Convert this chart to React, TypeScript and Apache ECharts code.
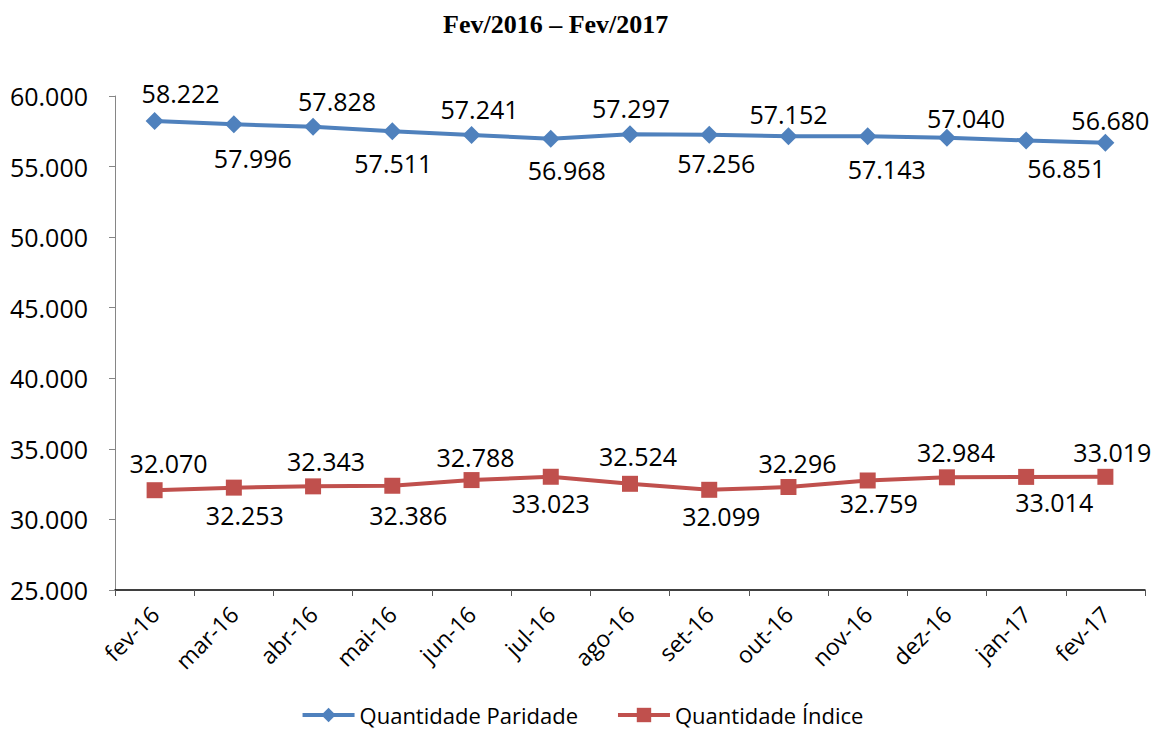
import React, { useEffect, useRef } from "react";
import * as echarts from "echarts";

const categories = ["fev-16","mar-16","abr-16","mai-16","jun-16","jul-16","ago-16","set-16","out-16","nov-16","dez-16","jan-17","fev-17"];
const paridade = [58222,57996,57828,57511,57241,56968,57297,57256,57152,57143,57040,56851,56680];
const indice = [32070,32253,32343,32386,32788,33023,32524,32099,32296,32759,32984,33014,33019];
const yTicks = { min: 25000, max: 60000, interval: 5000 };

// label placement (pixels, relative to each point) — style only
const paridadeLabelDx = [26,19,24,1,8,16,1,7,0,19,19,40,5];
const paridadeLabelDy = [-28,34,-26,32,-26,31,-26,28,-22,33,-20,28,-23];
const indiceLabelDx = [14,11,13,16,4,0,8,12,9,11,9,28,7];
const indiceLabelDy = [-27,27,-25,29,-23,26,-28,26,-24,23,-25,25,-25];

const fmt = (v: number) => {
  const s = Math.round(v).toString();
  return s.replace(/\B(?=(\d{3})+(?!\d))/g, ".");
};

const FONT = "'Open Sans', 'Noto Sans', sans-serif";

function withLabels(values: number[], dx: number[], dy: number[]) {
  return values.map((v, i) => ({
    value: v,
    label: { position: "inside", offset: [dx[i], dy[i]] },
  }));
}

export default function App() {
  const ref = useRef<HTMLDivElement>(null);
  useEffect(() => {
    const chart = echarts.init(ref.current!, null, { renderer: "svg" });
    chart.setOption({
      animation: false,
      backgroundColor: "#ffffff",
      title: {
        text: "Fev/2016 – Fev/2017",
        left: 438,
        top: 6,
        textStyle: { fontFamily: "'Liberation Serif', 'Times New Roman', serif", fontWeight: "bold", fontSize: 26, color: "#000" },
      },
      grid: { left: 115, right: 19, top: 96, bottom: 143, containLabel: false },
      legend: {
        bottom: 2,
        left: "center",
        itemWidth: 52,
        itemHeight: 18,
        itemGap: 38,
        lineStyle: { width: 4 },
        textStyle: { fontFamily: FONT, fontSize: 22, color: "#000" },
        data: ["Quantidade Paridade", "Quantidade Índice"],
      },
      xAxis: {
        type: "category",
        data: categories,
        boundaryGap: true,
        axisLine: { lineStyle: { color: "#000", width: 1.5 } },
        axisTick: { show: true, alignWithLabel: false, length: 6, lineStyle: { color: "#555" } },
        axisLabel: { rotate: 45, fontFamily: FONT, fontSize: 23, color: "#000", margin: 20, interval: 0 },
      },
      yAxis: {
        type: "value",
        min: yTicks.min,
        max: yTicks.max,
        interval: yTicks.interval,
        splitLine: { show: false },
        axisLine: { show: true, lineStyle: { color: "#868686", width: 1 } },
        axisTick: { show: true, length: 6, lineStyle: { color: "#868686" } },
        axisLabel: { fontFamily: FONT, fontSize: 25, color: "#000", margin: 27, formatter: (v: number) => fmt(v) },
      },
      series: [
        {
          name: "Quantidade Paridade",
          type: "line",
          data: withLabels(paridade, paridadeLabelDx, paridadeLabelDy),
          symbol: "diamond",
          symbolSize: 18,
          color: "#4F81BD",
          lineStyle: { width: 4, color: "#4F81BD" },
          itemStyle: { color: "#4F81BD" },
          label: { show: true, fontFamily: FONT, fontSize: 25, color: "#000", formatter: (p: any) => fmt(p.value) },
        },
        {
          name: "Quantidade Índice",
          type: "line",
          data: withLabels(indice, indiceLabelDx, indiceLabelDy),
          symbol: "rect",
          symbolSize: 16,
          color: "#C0504D",
          lineStyle: { width: 4, color: "#C0504D" },
          itemStyle: { color: "#C0504D" },
          label: { show: true, fontFamily: FONT, fontSize: 25, color: "#000", formatter: (p: any) => fmt(p.value) },
        },
      ],
    });
    return () => chart.dispose();
  }, []);
  return <div ref={ref} style={{ width: 1164, height: 733, position: "absolute", left: 0, top: 0 }} />;
}
